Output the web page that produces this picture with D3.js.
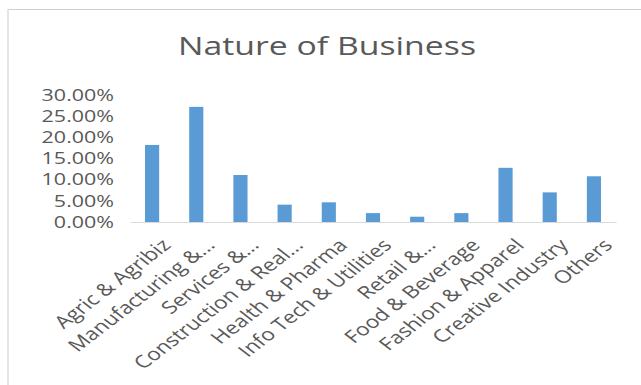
<!DOCTYPE html>
<html>
<head>
<meta charset="utf-8">
<script src="https://cdn.jsdelivr.net/npm/d3@7"></script>
<style>
  html, body { margin: 0; padding: 0; background: #fff; }
  svg { display: block; }
  text { font-family: "Open Sans", "DejaVu Sans", sans-serif; fill: #595959; }
</style>
</head>
<body>
<svg id="chart"></svg>
<script>
// Share of respondents by nature of business
const categories = [
  "Agric & Agribiz",
  "Manufacturing &...",
  "Services &...",
  "Construction & Real...",
  "Health & Pharma",
  "Info Tech & Utilities",
  "Retail &...",
  "Food & Beverage",
  "Fashion & Apparel",
  "Creative Industry",
  "Others"
];
const shares = [0.182, 0.272, 0.111, 0.041, 0.0465, 0.021, 0.0125, 0.021, 0.128, 0.070, 0.108];
const yTicks = [0, 0.05, 0.10, 0.15, 0.20, 0.25, 0.30];
const titleText = "Nature of Business";

const W = 641, H = 385;
const SX = 1.3;              // horizontal stretch of the drawing
const vw = W / SX;           // drawing width in user units

const svg = d3.select("#chart")
  .attr("width", W).attr("height", H)
  .attr("viewBox", `0 0 ${vw} ${H}`)
  .attr("preserveAspectRatio", "none");

const ux = px => px / SX;    // pixel x -> user units

// chart frame
svg.append("line")
  .attr("x1", ux(8)).attr("x2", vw).attr("y1", 9.5).attr("y2", 9.5)
  .attr("stroke", "#cfcfcf").attr("stroke-width", 1.2);
svg.append("line")
  .attr("x1", ux(8)).attr("x2", ux(8)).attr("y1", 9).attr("y2", H)
  .attr("stroke", "#d9d9d9").attr("stroke-width", 1);

// title
svg.append("text")
  .attr("x", ux(327)).attr("y", 55)
  .attr("text-anchor", "middle")
  .style("font-size", "26px")
  .text(titleText);

const x = d3.scaleBand()
  .domain(categories)
  .range([ux(130), ux(616)])
  .paddingInner(0.68)
  .paddingOuter(0.34);

const y = d3.scaleLinear().domain([0, 0.30]).range([222, 95]);

// y axis labels
const yAxis = d3.axisLeft(y)
  .tickValues(yTicks)
  .tickFormat(d3.format(".2%"))
  .tickSize(0)
  .tickPadding(0);
const gy = svg.append("g")
  .attr("transform", `translate(${ux(114)},0)`)
  .call(yAxis);
gy.select(".domain").remove();
gy.selectAll("text")
  .style("font-size", "16.5px")
  .style("font-family", "\"Open Sans\", sans-serif")
  .attr("fill", "#595959");

// bars
svg.append("g")
  .selectAll("rect")
  .data(shares)
  .join("rect")
  .attr("x", (d, i) => x(categories[i]))
  .attr("width", x.bandwidth())
  .attr("y", d => y(d))
  .attr("height", d => y(0) - y(d))
  .attr("fill", "#5b9bd5");

// category axis
const xAxis = d3.axisBottom(x).tickSize(0).tickPadding(0);
const gx = svg.append("g")
  .attr("transform", `translate(0,${y(0)})`)
  .call(xAxis);
gx.select(".domain")
  .attr("stroke", "#d9d9d9")
  .attr("stroke-width", 1.2);
gx.selectAll(".tick text")
  .attr("text-anchor", "end")
  .attr("x", 0).attr("y", 0).attr("dy", "0.75em")
  .attr("transform", "translate(6,15) rotate(-45)")
  .style("font-size", "17.5px")
  .style("font-family", "\"Open Sans\", sans-serif")
  .attr("fill", "#595959");
</script>
</body>
</html>
